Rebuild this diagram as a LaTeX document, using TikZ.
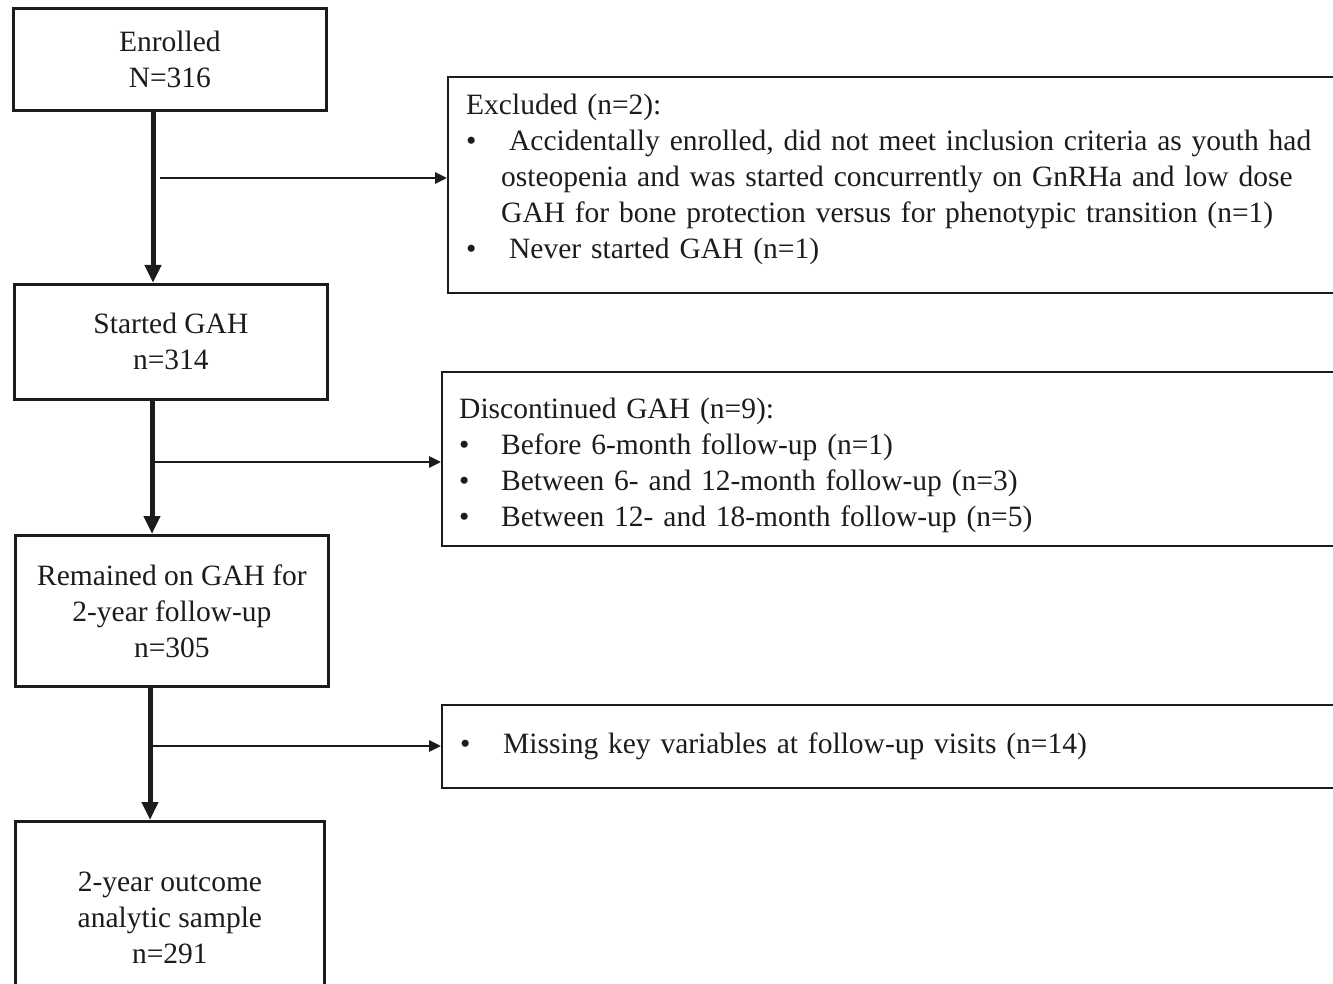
\documentclass[tikz,border=0pt]{standalone}
\usepackage{fontspec}
\setmainfont{Liberation Serif}
\usetikzlibrary{arrows.meta}
\definecolor{ink}{HTML}{1C1C1C}
\begin{document}
\begin{tikzpicture}[x=1pt,y=-1pt,
  every node/.style={text=ink,font=\fontsize{29.5}{36}\selectfont},
  leftbox/.style={draw=ink,line width=2.8pt,anchor=north west,align=center,inner sep=0pt},
  rightbox/.style={draw=ink,line width=2.4pt,anchor=north west,align=left,inner xsep=18pt,inner ysep=0pt},
  vline/.style={draw=ink,line width=5pt,-{Triangle[length=18pt,width=16pt]}},
  hline/.style={draw=ink,line width=2.8pt,-{Triangle[length=12pt,width=11pt]}}]
\useasboundingbox (0,0) rectangle (1333,984);
\fill[white] (0,0) rectangle (1333,984);
% left column
\node[leftbox,minimum width=313pt,minimum height=102pt] (enr) at (12,7) {Enrolled\\N=316};
\node[leftbox,minimum width=313pt,minimum height=115pt] (start) at (13,283) {Started GAH\\n=314};
\node[leftbox,minimum width=313pt,minimum height=151pt] (rem) at (14,534) {Remained on GAH for\\2-year follow-up\\n=305};
\node[leftbox,minimum width=309pt,minimum height=192pt] (ana) at (14,820) {2-year outcome\\analytic sample\\n=291};
% right column
\node[rightbox,minimum width=900pt,minimum height=216pt,text width=864pt] (exc) at (447,76) {Excluded (n=2):\\
\makebox[43pt][l]{\textbullet}Accidentally enrolled, did not meet inclusion criteria as youth had\\
\hspace*{35pt}osteopenia and was started concurrently on GnRHa and low dose\\
\hspace*{35pt}GAH for bone protection versus for phenotypic transition (n=1)\\
\makebox[43pt][l]{\textbullet}Never started GAH (n=1)\rule[-17pt]{0pt}{1pt}};
\node[rightbox,inner xsep=17pt,minimum width=906pt,minimum height=174pt,text width=872pt] (disc) at (441,371) {\rule{0pt}{32pt}Discontinued GAH (n=9):\\
\makebox[42pt][l]{\textbullet}Before 6-month follow-up (n=1)\\
\makebox[42pt][l]{\textbullet}Between 6- and 12-month follow-up (n=3)\\
\makebox[42pt][l]{\textbullet}Between 12- and 18-month follow-up (n=5)};
\node[rightbox,minimum width=906pt,minimum height=83pt,text width=870pt] (miss) at (441,704) {\makebox[43pt][l]{\textbullet}Missing key variables at follow-up visits (n=14)};
% connector columns
\coordinate (c1) at (153,0);
\coordinate (c2) at (152,0);
\coordinate (c3) at (150,0);
\coordinate (h1) at (160,178);
\coordinate (h2) at (152,462);
\coordinate (h3) at (150,746);
\draw[vline] (c1 |- enr.south) -- (c1 |- start.north);
\draw[vline] (c2 |- start.south) -- (c2 |- rem.north);
\draw[vline] (c3 |- rem.south) -- (c3 |- ana.north);
\draw[hline] (h1) -- (h1 -| exc.west);
\draw[hline] (h2) -- (h2 -| disc.west);
\draw[hline] (h3) -- (h3 -| miss.west);
\end{tikzpicture}
\end{document}
